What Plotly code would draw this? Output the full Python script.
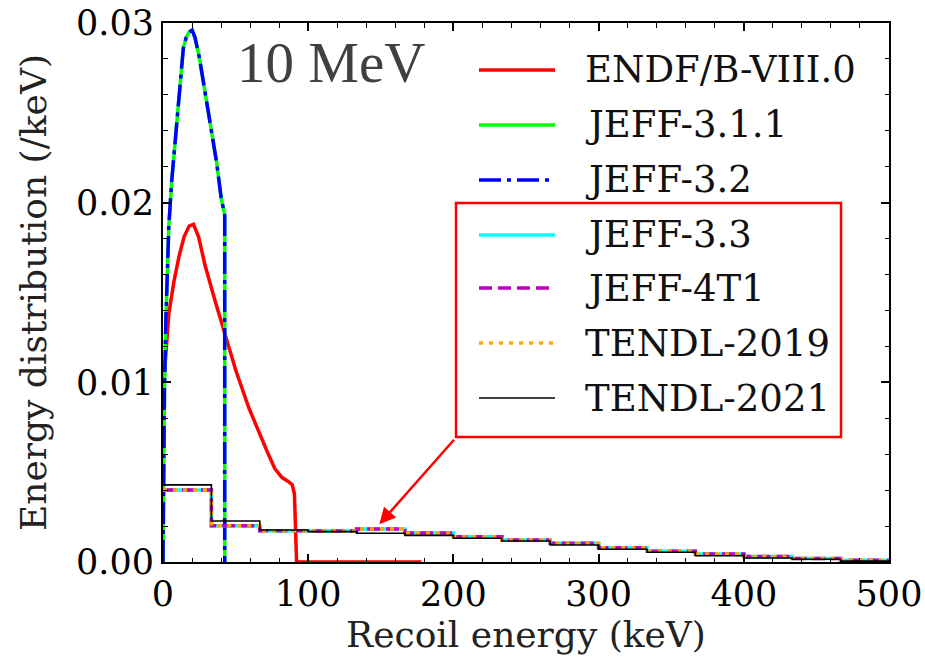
import plotly.graph_objects as go

# ---------------- data ----------------
# ENDF/B-VIII.0 (continuous curve)
endf_E = [0, 1, 4, 7.5, 11, 14.5, 18, 21, 24.5, 29, 36, 42, 50, 59, 66, 72, 77, 82, 86, 89, 90.5, 91.5, 92, 178]
endf_y = [0.0085, 0.0105, 0.0138, 0.0156, 0.0170, 0.0181, 0.0187, 0.0188, 0.0181, 0.0165, 0.0145, 0.0128,
          0.0107, 0.0086, 0.0072, 0.0061, 0.0052, 0.0047, 0.0045, 0.0043, 0.0038, 0.0010, 0.0, 0.0]

# JEFF-3.1.1 and JEFF-3.2 (identical curves)
jeff311_E = [0, 0.5, 1, 2, 3, 4, 6, 8, 10, 12, 14, 16, 18, 20, 22, 25, 28, 31, 34, 37, 40, 42.5, 42.5]
jeff311_y = [0.0, 0.006, 0.0095, 0.0135, 0.0165, 0.0187, 0.0212, 0.0230, 0.0249, 0.0268, 0.0286, 0.0292,
             0.0295, 0.0296, 0.0292, 0.0281, 0.0266, 0.0252, 0.0238, 0.0222, 0.0203, 0.0193, 0.0]
jeff32_E = list(jeff311_E)
jeff32_y = list(jeff311_y)

# histogram (group-wise) data: bin edges in keV
bin_edges = [0, 33.33, 66.67, 100, 133.33, 166.67, 200, 233.33, 266.67, 300,
             333.33, 366.67, 400, 433.33, 466.67, 500]
jeff33_vals = [0.00401, 0.00202, 0.00174, 0.00173, 0.00184, 0.00162, 0.00141, 0.00122,
               0.00104, 0.00080, 0.00060, 0.00045, 0.00030, 0.00020, 0.00010]
jeff4t1_vals = list(jeff33_vals)
tendl2019_vals = list(jeff33_vals)
tendl2021_vals = [0.00429, 0.00228, 0.00178, 0.00169, 0.00160, 0.00148, 0.00132, 0.00117,
                  0.00095, 0.00071, 0.00054, 0.00035, 0.00022, 0.00015, 0.00005]

x_ticks = [0, 100, 200, 300, 400, 500]
y_ticks = [0.00, 0.01, 0.02, 0.03]

legend_names = ["ENDF/B-VIII.0", "JEFF-3.1.1", "JEFF-3.2", "JEFF-3.3",
                "JEFF-4T1", "TENDL-2019", "TENDL-2021"]

# ---------------- styles ----------------
LW = 3.5
styles = {
    "ENDF/B-VIII.0": dict(color="#ff0000", width=LW, dash="solid"),
    "JEFF-3.1.1": dict(color="#00ff00", width=LW, dash="solid"),
    "JEFF-3.2": dict(color="#0000ff", width=LW, dash="22px,6px,4px,6px"),
    "JEFF-3.3": dict(color="#00ffff", width=LW, dash="solid"),
    "JEFF-4T1": dict(color="#bf00bf", width=LW, dash="13px,6px"),
    "TENDL-2019": dict(color="#ffa500", width=LW, dash="4px,6px"),
    "TENDL-2021": dict(color="#000000", width=1.6, dash="solid"),
}


def step_xy(edges, vals):
    return list(edges), list(vals) + [vals[-1]]


fig = go.Figure()
fig.add_trace(go.Scatter(x=endf_E, y=endf_y, mode="lines", name="ENDF/B-VIII.0",
                         line=styles["ENDF/B-VIII.0"]))
fig.add_trace(go.Scatter(x=jeff311_E, y=jeff311_y, mode="lines", name="JEFF-3.1.1",
                         line=styles["JEFF-3.1.1"]))
fig.add_trace(go.Scatter(x=jeff32_E, y=jeff32_y, mode="lines", name="JEFF-3.2",
                         line=styles["JEFF-3.2"]))
for name, vals in [("JEFF-3.3", jeff33_vals), ("JEFF-4T1", jeff4t1_vals),
                   ("TENDL-2019", tendl2019_vals), ("TENDL-2021", tendl2021_vals)]:
    sx, sy = step_xy(bin_edges, vals)
    fig.add_trace(go.Scatter(x=sx, y=sy, mode="lines", name=name, line_shape="hv",
                             line=styles[name]))

# ---------------- layout ----------------
L, R, T, B = 163, 36, 23, 105
W, H = 925, 667
pw, ph = W - L - R, H - T - B


def px2paper(px, py):
    return (px - L) / pw, (H - B - py) / ph


FONT = "DejaVu Serif"
fig.update_layout(
    width=W, height=H,
    margin=dict(l=L, r=R, t=T, b=B, autoexpand=False),
    plot_bgcolor="white", paper_bgcolor="white",
    showlegend=False,
    font=dict(family=FONT, size=35, color="black"),
)
axis_common = dict(
    ticks="inside", ticklen=8, tickwidth=1.5, tickcolor="black",
    showline=True, linewidth=2, linecolor="black", mirror="allticks",
    showgrid=False, zeroline=False, automargin=False,
    tickfont=dict(family=FONT, size=35, color="black"),
)
fig.update_xaxes(range=[0, 500], tickvals=x_ticks, ticktext=[str(v) for v in x_ticks],
                 minor=dict(dtick=20, tick0=0, ticks="inside", ticklen=4.5, tickwidth=1.2, tickcolor="black"),
                 title=dict(text="Recoil energy (keV)", font=dict(family=FONT, size=36, color="#222222"),
                            standoff=8),
                 **axis_common)
fig.update_yaxes(range=[0, 0.03], tickvals=y_ticks, ticktext=["%.2f" % v for v in y_ticks],
                 minor=dict(dtick=0.002, tick0=0, ticks="inside", ticklen=4.5, tickwidth=1.2, tickcolor="black"),
                 title=dict(text="Energy distribution (/keV)", font=dict(family=FONT, size=36, color="#222222"),
                            standoff=18),
                 **axis_common)

# manual legend
row_y = [70, 125, 180, 235, 288, 343, 398]
shapes = []
annotations = []
for name, py in zip(legend_names, row_y):
    x0, y0 = px2paper(479, py)
    x1, _ = px2paper(555, py)
    st = styles[name]
    shapes.append(dict(type="line", xref="paper", yref="paper", x0=x0, x1=x1, y0=y0, y1=y0,
                       line=dict(color=st["color"], width=st["width"], dash=st["dash"])))
    tx, ty = px2paper(583, py)
    annotations.append(dict(xref="paper", yref="paper", x=tx, y=ty, xanchor="left", yanchor="middle",
                            text=name, showarrow=False, font=dict(family=FONT, size=37, color="#111111")))

# red box around the histogram-type entries
bx0, by0 = px2paper(456, 437)
bx1, by1 = px2paper(841, 203)
shapes.append(dict(type="rect", xref="paper", yref="paper", x0=bx0, x1=bx1, y0=by0, y1=by1,
                   line=dict(color="#ff0000", width=2.5), fillcolor="rgba(0,0,0,0)"))

# arrow pointing to the histogram step
annotations.append(dict(x=149, y=0.0021, xref="x", yref="y", ax=76, ay=-86, axref="pixel", ayref="pixel",
                        text="", showarrow=True, arrowhead=2, arrowsize=1.3, arrowwidth=2.5,
                        arrowcolor="#ff0000"))

# energy label
ex, ey = px2paper(331, 62)
annotations.append(dict(xref="paper", yref="paper", x=ex, y=ey, xanchor="center", yanchor="middle",
                        text="10 MeV", showarrow=False,
                        font=dict(family="Liberation Serif", size=57, color="#404040")))

fig.update_layout(shapes=shapes, annotations=annotations)

fig.write_html("out.html")
